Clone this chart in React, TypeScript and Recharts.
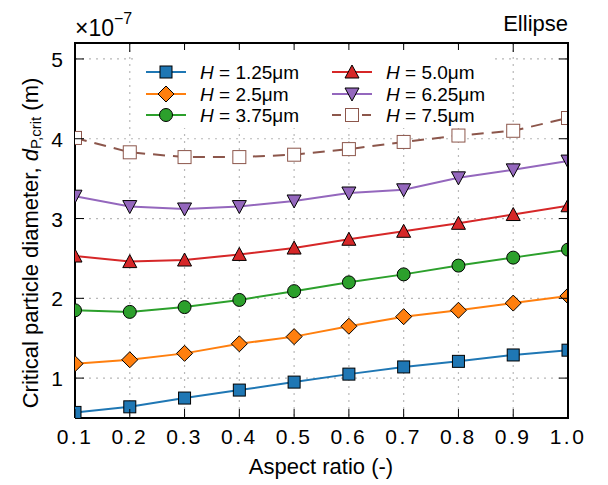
import { LineChart, Line, XAxis, YAxis, CartesianGrid, Legend } from 'recharts';

const aspectRatios = [0.1, 0.2, 0.3, 0.4, 0.5, 0.6, 0.7, 0.8, 0.9, 1.0];
// critical particle diameter, in units of 1e-7 m
const h125 = [0.57, 0.64, 0.75, 0.85, 0.95, 1.05, 1.14, 1.21, 1.29, 1.35];
const h250 = [1.18, 1.23, 1.31, 1.43, 1.52, 1.65, 1.77, 1.85, 1.94, 2.03];
const h375 = [1.85, 1.83, 1.89, 1.98, 2.09, 2.2, 2.3, 2.41, 2.51, 2.61];
const h500 = [2.53, 2.46, 2.48, 2.55, 2.63, 2.74, 2.84, 2.94, 3.05, 3.16];
const h625 = [3.28, 3.15, 3.12, 3.15, 3.22, 3.32, 3.36, 3.51, 3.61, 3.72];
const h750 = [4.01, 3.83, 3.77, 3.77, 3.8, 3.87, 3.96, 4.04, 4.1, 4.26];

const xTicks = [0.1, 0.2, 0.3, 0.4, 0.5, 0.6, 0.7, 0.8, 0.9, 1.0];
const yTicks = [1, 2, 3, 4, 5];
const X_DOMAIN = [0.1, 1.0];
const Y_DOMAIN = [0.5, 5.2];

const FONT = '"Liberation Sans", Arial, Helvetica, sans-serif';

// plot box in pixels (frame + clipping of the half markers at the edges)
const PLOT = { left: 75, top: 43, right: 568, bottom: 418 };

type Shape = 'square' | 'diamond' | 'circle' | 'up' | 'down' | 'open';

const SERIES: { key: string; label: string; color: string; shape: Shape; values: number[]; dashed?: boolean }[] = [
  { key: 'h125', label: '1.25μm', color: '#1f77b4', shape: 'square', values: h125 },
  { key: 'h250', label: '2.5μm', color: '#ff7f0e', shape: 'diamond', values: h250 },
  { key: 'h375', label: '3.75μm', color: '#2ca02c', shape: 'circle', values: h375 },
  { key: 'h500', label: '5.0μm', color: '#d62728', shape: 'up', values: h500 },
  { key: 'h625', label: '6.25μm', color: '#9467bd', shape: 'down', values: h625 },
  { key: 'h750', label: '7.5μm', color: '#8c564b', shape: 'open', values: h750, dashed: true },
];

const data = aspectRatios.map((ar, i) => {
  const row: Record<string, number> = { ar };
  SERIES.forEach((s) => (row[s.key] = s.values[i]));
  return row;
});

function Marker({ cx, cy, shape, color }: { cx: number; cy: number; shape: Shape; color: string }) {
  if (cx == null || cy == null) return null;
  switch (shape) {
    case 'square':
      return <rect x={cx - 6} y={cy - 6} width={12} height={12} fill={color} stroke="#000" strokeWidth={1} />;
    case 'diamond':
      return (
        <polygon points={`${cx},${cy - 8} ${cx + 8},${cy} ${cx},${cy + 8} ${cx - 8},${cy}`} fill={color} stroke="#000" strokeWidth={1} />
      );
    case 'circle':
      return <circle cx={cx} cy={cy} r={6.5} fill={color} stroke="#000" strokeWidth={1} />;
    case 'up':
      return <polygon points={`${cx},${cy - 7} ${cx + 7},${cy + 6} ${cx - 7},${cy + 6}`} fill={color} stroke="#000" strokeWidth={1} />;
    case 'down':
      return <polygon points={`${cx},${cy + 7} ${cx + 7},${cy - 6} ${cx - 7},${cy - 6}`} fill={color} stroke="#000" strokeWidth={1} />;
    default:
      return <rect x={cx - 6.5} y={cy - 6.5} width={13} height={13} fill="#fff" stroke={color} strokeWidth={1} />;
  }
}

// bottom tick: inward tick on the bottom spine, mirrored tick on the top spine
const BottomTick = ({ x, y, payload }: any) => (
  <g>
    <line x1={x} x2={x} y1={y} y2={y - 9} stroke="#000" strokeWidth={1} />
    <line x1={x} x2={x} y1={PLOT.top} y2={PLOT.top + 9} stroke="#000" strokeWidth={1} />
    <text x={x} y={y + 26} textAnchor="middle" fontSize={21} fontFamily={FONT} letterSpacing={2.5} fill="#000">
      {Number(payload.value).toFixed(1)}
    </text>
  </g>
);

// left tick: inward tick on the left spine, mirrored tick on the right spine
const LeftTick = ({ x, y, payload }: any) => (
  <g>
    <line x1={x} x2={x + 9} y1={y} y2={y} stroke="#000" strokeWidth={1} />
    <line x1={PLOT.right} x2={PLOT.right - 9} y1={y} y2={y} stroke="#000" strokeWidth={1} />
    <text x={x - 12} y={y + 8} textAnchor="end" fontSize={21} fontFamily={FONT} fill="#000">
      {payload.value}
    </text>
  </g>
);

function LegendBox() {
  const rows = [22, 44, 65];
  const cols = [13, 199];
  return (
    <div style={{ background: '#fff', width: 357, height: 78 }}>
      <svg width={357} height={78} style={{ display: 'block' }}>
        {SERIES.map((s, i) => {
          const col = cols[Math.floor(i / 3)];
          const y = rows[i % 3];
          return (
            <g key={s.key}>
              <line x1={col} x2={col + 40} y1={y} y2={y} stroke={s.color} strokeWidth={2} strokeDasharray={s.dashed ? '9 6' : undefined} />
              <Marker cx={col + 20} cy={y} shape={s.shape} color={s.color} />
              <text x={col + 54} y={y + 6.5} fontSize={19} fontFamily={FONT} fill="#000">
                <tspan fontStyle="italic">H</tspan> = {s.label}
              </text>
            </g>
          );
        })}
      </svg>
    </div>
  );
}

export default function App() {
  const w = PLOT.right - PLOT.left;
  const h = PLOT.bottom - PLOT.top;
  return (
    <div style={{ position: 'absolute', left: 0, top: 0, width: 608, height: 485, background: '#fff' }}>
      <LineChart width={608} height={485} data={data} margin={{ top: PLOT.top, right: 608 - PLOT.right, bottom: 0, left: 0 }}>
        <CartesianGrid stroke="#b8b8b8" strokeDasharray="2 5" strokeWidth={1.2} />
        <XAxis
          dataKey="ar"
          type="number"
          domain={X_DOMAIN}
          ticks={xTicks}
          allowDataOverflow
          height={485 - PLOT.bottom}
          tickSize={0}
          tickMargin={0}
          tick={BottomTick}
          axisLine={{ stroke: '#000', strokeWidth: 2 }}
          interval={0}
        />
        <YAxis
          type="number"
          domain={Y_DOMAIN}
          ticks={yTicks}
          allowDataOverflow
          width={PLOT.left}
          tickSize={0}
          tickMargin={0}
          tick={LeftTick}
          axisLine={{ stroke: '#000', strokeWidth: 2 }}
          interval={0}
          label={{
            content: () => (
              <text
                x={30}
                y={243}
                transform="rotate(-90 30 243)"
                textAnchor="middle"
                dominantBaseline="central"
                fontSize={22}
                fontFamily={FONT}
                fill="#000"
              >
                Critical particle diameter, <tspan fontStyle="italic">d</tspan>
                <tspan fontSize={15} dy={5}>P,crit</tspan>
                <tspan dy={-5}> (m)</tspan>
              </text>
            ),
          }}
        />
        <Legend
          layout="horizontal"
          verticalAlign="middle"
          align="center"
          wrapperStyle={{ position: 'absolute', left: 133, top: 50, width: 357, height: 78 }}
          content={() => <LegendBox />}
        />
        {SERIES.map((s) => (
          <Line
            key={s.key}
            type="linear"
            dataKey={s.key}
            stroke={s.color}
            strokeWidth={2}
            strokeDasharray={s.dashed ? '12 8' : undefined}
            dot={(p: any) => (
              <svg key={`${s.key}-${p.index}`} x={PLOT.left} y={PLOT.top} width={w} height={h} overflow="hidden">
                <Marker cx={p.cx - PLOT.left} cy={p.cy - PLOT.top} shape={s.shape} color={s.color} />
              </svg>
            )}
            activeDot={false}
            isAnimationActive={false}
          />
        ))}
      </LineChart>
      <svg width={608} height={485} style={{ position: 'absolute', left: 0, top: 0, zIndex: 10, pointerEvents: 'none' }}>
        <line x1={PLOT.left - 1} x2={PLOT.right + 1} y1={PLOT.top} y2={PLOT.top} stroke="#000" strokeWidth={2} />
        <line x1={PLOT.right} x2={PLOT.right} y1={PLOT.top} y2={PLOT.bottom + 1} stroke="#000" strokeWidth={2} />
        <text x={75} y={36} fontSize={23} fontFamily={FONT} fill="#000">
          ×10<tspan fontSize={16} dy={-12}>−7</tspan>
        </text>
        <text x={568} y={31} textAnchor="end" fontSize={22} fontFamily={FONT} fill="#000">
          Ellipse
        </text>
        <text x={321} y={474} textAnchor="middle" fontSize={22} fontFamily={FONT} fill="#000">
          Aspect ratio (-)
        </text>
      </svg>
    </div>
  );
}
